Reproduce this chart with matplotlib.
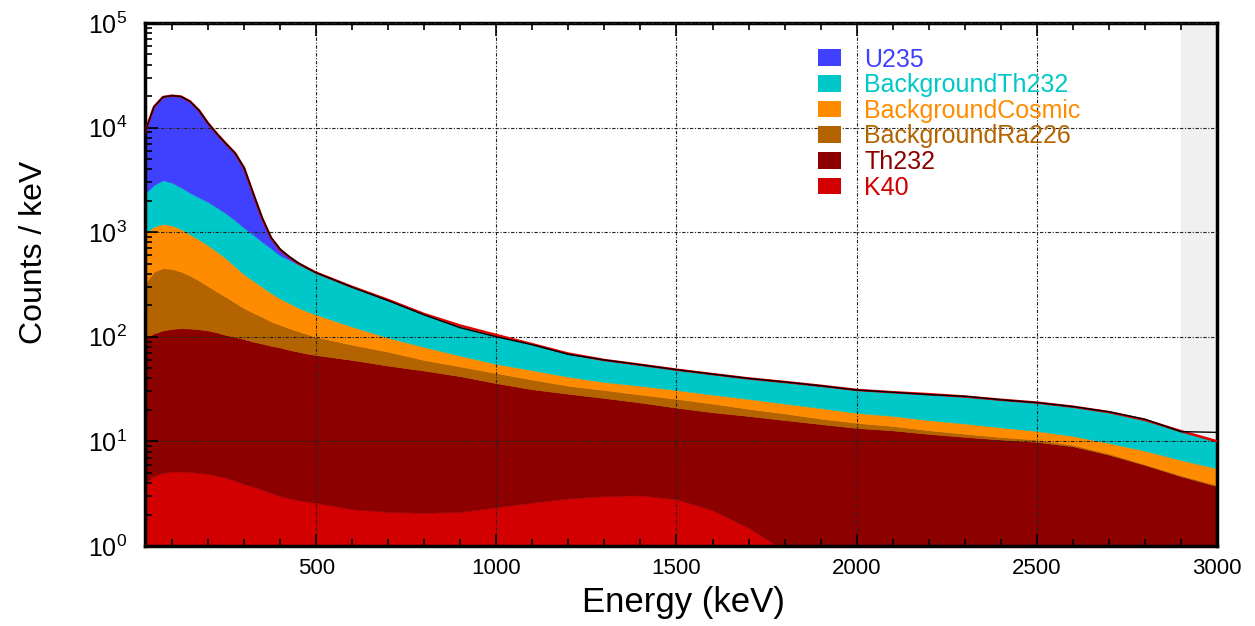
import numpy as np
import matplotlib
matplotlib.use('Agg')
import matplotlib.pyplot as plt
from matplotlib.patches import Patch
from matplotlib.ticker import MultipleLocator, LogLocator, NullFormatter

plt.rcParams['font.family'] = ['Liberation Sans', 'DejaVu Sans']
plt.rcParams['mathtext.default'] = 'regular'

# ---------------- data (counts / keV per component) ----------------
energy = [25, 50, 75, 100, 125, 150, 175, 200, 225, 250, 275, 300, 325, 350,
          375, 400, 425, 450, 475, 500,
          600, 700, 800, 900, 1000, 1100, 1200, 1300, 1400, 1500, 1600,
          1700, 1800, 1900, 2000, 2100, 2200, 2300, 2400, 2500, 2600,
          2700, 2800, 2900, 3000]

k40 = [4.0, 4.7, 5.0, 5.15, 5.15, 5.1, 5.0, 4.9, 4.7, 4.5, 4.2, 3.9, 3.7, 3.45,
       3.2, 3.0, 2.85, 2.75, 2.65, 2.58,
       2.25, 2.12, 2.08, 2.12, 2.35, 2.6, 2.85, 3.0, 3.05, 2.8, 2.2,
       1.5, 0.9, 0.55, 0.35, 0.25, 0.2, 0.15, 0.12, 0.1, 0.08,
       0.06, 0.05, 0.04, 0.03]

th232 = [93.0, 103.3, 110.0, 113.9, 115.9, 114.9, 113.0, 110.1, 105.3, 99.5, 95.8, 91.1, 86.3, 82.6,
         78.8, 76.0, 72.2, 69.3, 66.4, 64.4,
         57.8, 50.9, 45.4, 39.9, 33.7, 28.9, 25.7, 23.0, 20.5, 18.2, 16.8,
         16.0, 15.1, 14.1, 13.1, 12.5, 11.6, 10.9, 10.3, 9.8, 8.9,
         7.4, 5.9, 4.6, 3.7]

background_ra226 = [228, 312, 340, 326, 299, 265, 227, 190, 160, 136, 112, 93, 80, 69,
                    58, 51, 46, 41, 37, 33,
                    24, 19, 12.5, 10, 9, 7.5, 5.5, 5, 4.5, 4.5, 4,
                    3, 2.5, 1.9, 1.6, 1.3, 1.0, 0.8, 0.6, 0.5, 0.3,
                    0.2, 0.1, 0.1, 0.1]

background_cosmic = [655, 710, 745, 715, 650, 565, 505, 445, 380, 320, 258, 207, 175, 145,
                     122, 102, 89, 77, 69, 63,
                     41, 26, 20, 14, 10, 9, 7.5, 6, 6, 5.5, 5,
                     5, 4.5, 4.3, 3.7, 3.5, 3.2, 3.0, 2.6, 2.2, 2.0,
                     2.0, 2.1, 1.9, 1.7]

background_th232 = [1370, 1700, 1950, 1820, 1610, 1430, 1300, 1200, 1070, 950, 830, 705, 605, 510,
                    438, 368, 335, 305, 275, 247,
                    175, 127, 85, 62, 49, 37, 27.5, 23, 20, 17.5, 16,
                    14.5, 14, 13.2, 12.3, 12, 12.3, 12, 11.4, 10.9, 10.2,
                    9.4, 7.9, 5.9, 4.5]

u235 = [6750, 12970, 16450, 17220, 17120, 15420, 12450, 9050, 6980, 5490, 4400, 3000, 1400, 550,
        180, 80, 35, 10, 5, 0.5,
        0, 0, 0, 0, 0, 0, 0, 0, 0, 0, 0,
        0, 0, 0, 0, 0, 0, 0, 0, 0, 0,
        0, 0, 0, 0]

measured = [9100, 15800, 19600, 20200, 19800, 17800, 14600, 11000, 8700, 7000, 5700, 4150, 2380, 1380,
            890, 690, 585, 510, 455, 410,
            298, 222, 162, 122, 100, 84, 68, 60, 54, 48.5, 44,
            40, 37, 34, 31, 29.5, 28, 27, 25, 23.5, 21.5,
            19.2, 16.3, 12.4, 12.2]

stack_labels = ['K40', 'Th232', 'BackgroundRa226', 'BackgroundCosmic',
                'BackgroundTh232', 'U235']
stack_colors = ['#d20000', '#8c0000', '#b36400', '#ff8c00', '#00c8c8', '#4040ff']

# ---------------- figure ----------------
fig = plt.figure(figsize=(12.55, 6.26), dpi=100)
ax = fig.add_axes([145 / 1255, 80 / 626, 1072 / 1255, 523 / 626])

E = np.array(energy, dtype=float)
comps = np.vstack([k40, th232, background_ra226, background_cosmic,
                   background_th232, u235]).astype(float)
cum = np.cumsum(comps, axis=0)

ax.axvspan(2900, 3000, color='#f0f0f0', zorder=0.5, lw=0)

prev = np.full_like(E, 1e-3)
for i in range(len(stack_labels)):
    ax.fill_between(E, prev, cum[i], facecolor=stack_colors[i],
                    edgecolor=stack_colors[i], lw=0.4, zorder=1)
    prev = cum[i]

ax.plot(E, cum[-1], color='#e00000', lw=1.8, zorder=3)
ax.plot(E, measured, color='black', lw=1.0, zorder=3.5)

ax.set_yscale('log')
ax.set_xlim(25, 3000)
ax.set_ylim(1, 1e5)

ax.xaxis.set_major_locator(MultipleLocator(500))
ax.xaxis.set_minor_locator(MultipleLocator(100))
ax.yaxis.set_major_locator(LogLocator(base=10, numticks=10))
ax.yaxis.set_minor_locator(LogLocator(base=10, subs=np.arange(2, 10), numticks=20))
ax.yaxis.set_minor_formatter(NullFormatter())

ax.tick_params(axis='x', which='both', direction='in', top=True, bottom=True,
               labelsize=16, pad=9)
ax.tick_params(axis='y', which='both', direction='in', left=True, right=False,
               labelsize=18, pad=13)
ax.tick_params(which='major', length=9, width=1.2)
ax.tick_params(which='minor', length=5, width=1.2)

for s in ax.spines.values():
    s.set_linewidth(2.5)

ax.set_axisbelow(False)
ax.grid(True, which='major', color='#222222', lw=0.8,
        linestyle=(0, (3, 1.5, 1, 1.5)))

ax.set_xlabel('Energy (keV)', fontsize=25)
ax.xaxis.set_label_coords(0.502, -0.077)
ax.set_ylabel('Counts / keV', fontsize=23)
ax.yaxis.set_label_coords(-0.09, 0.562)

order = [5, 4, 3, 2, 1, 0]
handles = [Patch(facecolor=stack_colors[i], edgecolor='none') for i in order]
leg = ax.legend(handles, [stack_labels[i] for i in order], loc='upper left',
                bbox_to_anchor=(0.628, 0.953), frameon=False, fontsize=18,
                handlelength=0.9, handleheight=0.65, handletextpad=0.95,
                labelspacing=0.065, borderpad=0, borderaxespad=0)
for t, i in zip(leg.get_texts(), order):
    t.set_color(stack_colors[i])

fig.savefig('out.png', dpi=100)
